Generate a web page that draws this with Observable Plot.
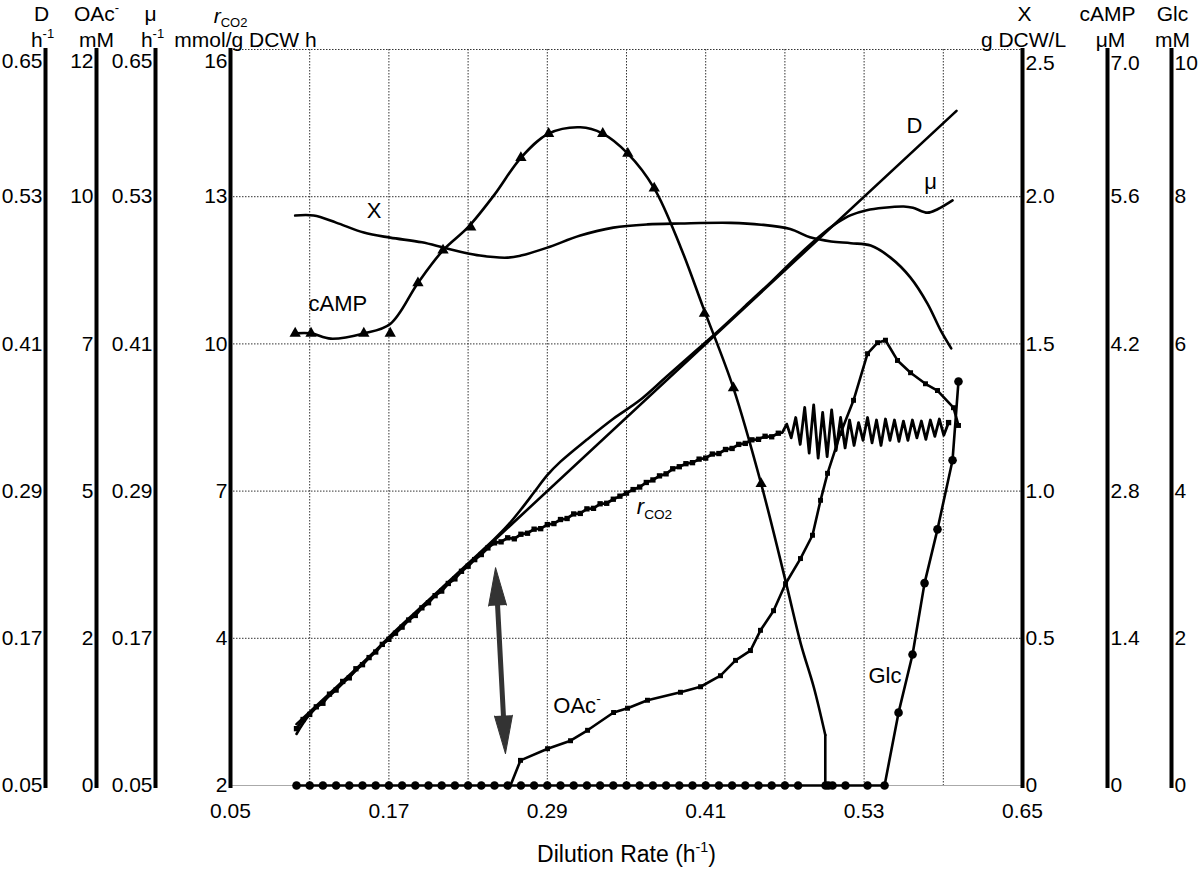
<!DOCTYPE html>
<html>
<head>
<meta charset="utf-8">
<script src="https://cdn.jsdelivr.net/npm/d3@7"></script>
<script src="https://cdn.jsdelivr.net/npm/@observablehq/plot@0.6"></script>
<style>
  html, body { margin: 0; padding: 0; background: #fff; }
  #chart { width: 1200px; height: 869px; }
</style>
</head>
<body>
<div id="chart"></div>
<script>
// ---------------- axes ----------------
const dilutionDomain = [0.05, 0.65];
const dilutionTicks = [0.05, 0.17, 0.29, 0.41, 0.53, 0.65];
const dilutionTickLabels = ["0.05", "0.17", "0.29", "0.41", "0.53", "0.65"];
const gridX = [0.11, 0.17, 0.23, 0.29, 0.35, 0.41, 0.47, 0.53, 0.59];
const gridLevels = [1, 2, 3, 4, 5];

// value domains of the seven y axes (bottom, top) and their tick labels (bottom -> top)
const dDomain = [0.05, 0.65];
const dTickLabels = ["0.05", "0.17", "0.29", "0.41", "0.53", "0.65"];
const oacDomain = [0, 12];
const oacTickLabels = ["0", "2", "5", "7", "10", "12"];
const muDomain = [0.05, 0.65];
const muTickLabels = ["0.05", "0.17", "0.29", "0.41", "0.53", "0.65"];
const rco2Domain = [1.5, 16];
const rco2TickLabels = ["2", "4", "7", "10", "13", "16"];
const bioDomain = [0, 2.5];
const bioTickLabels = ["0", "0.5", "1.0", "1.5", "2.0", "2.5"];
const campDomain = [0, 7];
const campTickLabels = ["0", "1.4", "2.8", "4.2", "5.6", "7.0"];
const glcDomain = [0, 10];
const glcTickLabels = ["0", "2", "4", "6", "8", "10"];

const leftTitles = ["D", "OAc^{-}", "μ", "*r*_{CO2}"];
const leftUnits = ["h^{-1}", "mM", "h^{-1}", "mmol/g DCW h"];
const rightTitles = ["X", "cAMP", "Glc"];
const rightUnits = ["g DCW/L", "μM", "mM"];
const xTitle = "Dilution Rate (h^{-1})";

// ---------------- series ----------------
// D (set dilution rate)
const dX = [0.10, 0.60];
const dV = [0.10, 0.60];

// mu (growth rate)
const muX = [0.100, 0.110, 0.130, 0.150, 0.170, 0.200, 0.230, 0.250, 0.260, 0.270, 0.280, 0.290, 0.300, 0.320, 0.340, 0.360, 0.380, 0.400, 0.420, 0.440, 0.460, 0.480, 0.500, 0.510, 0.520, 0.532, 0.545, 0.560, 0.567, 0.578, 0.586, 0.597];
const muV = [0.092, 0.108, 0.128, 0.149, 0.171, 0.201, 0.231, 0.251, 0.262, 0.275, 0.289, 0.303, 0.314, 0.332, 0.349, 0.364, 0.383, 0.402, 0.421, 0.441, 0.461, 0.482, 0.501, 0.509, 0.515, 0.519, 0.521, 0.522, 0.521, 0.517, 0.520, 0.527];

// X (biomass, g DCW/L)
const bioX = [0.099, 0.113, 0.130, 0.151, 0.171, 0.195, 0.214, 0.239, 0.260, 0.270, 0.290, 0.315, 0.340, 0.366, 0.391, 0.429, 0.452, 0.474, 0.489, 0.505, 0.520, 0.535, 0.550, 0.565, 0.578, 0.588, 0.596];
const bioV = [1.936, 1.936, 1.912, 1.878, 1.861, 1.845, 1.824, 1.800, 1.793, 1.800, 1.827, 1.868, 1.895, 1.906, 1.909, 1.911, 1.905, 1.890, 1.862, 1.848, 1.842, 1.834, 1.793, 1.726, 1.637, 1.546, 1.485];

// cAMP (uM) smooth curve and measured points
const campX = [0.099, 0.111, 0.126, 0.151, 0.171, 0.192, 0.211, 0.230, 0.250, 0.270, 0.291, 0.315, 0.332, 0.351, 0.371, 0.391, 0.408, 0.431, 0.452, 0.471, 0.482, 0.492, 0.5006, 0.5006];
const campV = [4.30, 4.30, 4.25, 4.30, 4.39, 4.78, 5.09, 5.31, 5.62, 5.97, 6.20, 6.26, 6.20, 6.01, 5.68, 5.12, 4.55, 3.78, 2.87, 1.92, 1.35, 0.93, 0.48, 0];
const campPtX = [0.099, 0.111, 0.151, 0.171, 0.192, 0.211, 0.232, 0.270, 0.291, 0.332, 0.351, 0.371, 0.409, 0.431, 0.452];
const campPtV = [4.30, 4.30, 4.30, 4.30, 4.78, 5.09, 5.31, 5.97, 6.20, 6.20, 6.01, 5.68, 4.49, 3.78, 2.87];

// rCO2 (mmol/g DCW h)
const rco2X = [0.100, 0.105, 0.110, 0.115, 0.120, 0.125, 0.130, 0.135, 0.140, 0.145, 0.150, 0.155, 0.160, 0.165, 0.170, 0.175, 0.180, 0.185, 0.190, 0.195, 0.200, 0.205, 0.210, 0.215, 0.220, 0.225, 0.230, 0.235, 0.240, 0.245, 0.250, 0.255, 0.260, 0.265, 0.270, 0.275, 0.280, 0.285, 0.290, 0.295, 0.300, 0.305, 0.310, 0.315, 0.320, 0.325, 0.330, 0.335, 0.340, 0.345, 0.350, 0.355, 0.360, 0.365, 0.370, 0.375, 0.380, 0.385, 0.390, 0.395, 0.400, 0.405, 0.410, 0.415, 0.420, 0.425, 0.430, 0.435, 0.440, 0.445, 0.450, 0.455, 0.460, 0.465,
  0.4680, 0.4714, 0.4748, 0.4782, 0.4816, 0.4850, 0.4884, 0.4918, 0.4952, 0.4986, 0.5020, 0.5054, 0.5088, 0.5122, 0.5156, 0.5190, 0.5224, 0.5258, 0.5292, 0.5326, 0.5360, 0.5394, 0.5428, 0.5462, 0.5496, 0.5530, 0.5564, 0.5598, 0.5632, 0.5666, 0.5700, 0.5734, 0.5768, 0.5802, 0.5836, 0.5870, 0.5904, 0.5940];
const rco2V = [2.62, 2.80, 2.90, 3.05, 3.12, 3.30, 3.38, 3.55, 3.62, 3.80, 3.88, 4.02, 4.13, 4.28, 4.38, 4.50, 4.62, 4.76, 4.85, 5.00, 5.10, 5.24, 5.33, 5.48, 5.57, 5.72, 5.82, 5.95, 6.05, 6.18, 6.28, 6.30, 6.38, 6.36, 6.45, 6.47, 6.55, 6.56, 6.64, 6.66, 6.74, 6.76, 6.85, 6.86, 6.95, 6.96, 7.05, 7.06, 7.14, 7.20, 7.26, 7.33, 7.38, 7.47, 7.52, 7.60, 7.64, 7.74, 7.78, 7.84, 7.86, 7.93, 7.95, 8.03, 8.04, 8.12, 8.14, 8.22, 8.24, 8.31, 8.32, 8.38, 8.37, 8.44,
  8.45, 8.62, 8.35, 8.75, 8.22, 8.95, 8.05, 9.00, 7.95, 8.85, 7.98, 8.90, 8.10, 8.75, 8.15, 8.70, 8.20, 8.65, 8.30, 8.75, 8.25, 8.70, 8.20, 8.72, 8.30, 8.70, 8.28, 8.68, 8.30, 8.70, 8.35, 8.68, 8.32, 8.70, 8.38, 8.72, 8.40, 8.65];

// acetate (mM)
const oacX = [0.2621, 0.2697, 0.2902, 0.3076, 0.3205, 0.3402, 0.3508, 0.3659, 0.3909, 0.4061, 0.4212, 0.4326, 0.4439, 0.4515, 0.4614, 0.4705, 0.4818, 0.4909, 0.4970, 0.5023, 0.5121, 0.5220, 0.5326, 0.5402, 0.5462, 0.5553, 0.5652, 0.5765, 0.5856, 0.5977, 0.6015];
const oacV = [0, 0.41, 0.60, 0.73, 0.90, 1.19, 1.26, 1.39, 1.52, 1.61, 1.79, 2.04, 2.20, 2.53, 2.85, 3.29, 3.70, 4.08, 4.65, 5.09, 5.74, 6.28, 7.04, 7.22, 7.26, 6.93, 6.73, 6.55, 6.44, 6.16, 5.87];

// glucose (mM)
const glcX = [0.10, 0.11, 0.12, 0.13, 0.14, 0.15, 0.16, 0.17, 0.18, 0.19, 0.20, 0.21, 0.22, 0.23, 0.24, 0.25, 0.26, 0.27, 0.28, 0.29, 0.30, 0.31, 0.32, 0.33, 0.34, 0.35, 0.36, 0.37, 0.38, 0.39, 0.40, 0.41, 0.42, 0.43, 0.44, 0.45, 0.46, 0.47, 0.48, 0.5008, 0.5030, 0.5061, 0.5159, 0.5326, 0.5455, 0.5561, 0.5667, 0.5758, 0.5856, 0.5970, 0.6015];
const glcV = [0, 0, 0, 0, 0, 0, 0, 0, 0, 0, 0, 0, 0, 0, 0, 0, 0, 0, 0, 0, 0, 0, 0, 0, 0, 0, 0, 0, 0, 0, 0, 0, 0, 0, 0, 0, 0, 0, 0, 0, 0, 0, 0, 0, 0, 0.99, 1.78, 2.75, 3.48, 4.42, 5.49];

// in-plot labels (x = dilution rate, y in grid units 0..5)
const curveLabelText = ["D", "μ", "X", "cAMP", "*r*_{CO2}", "OAc^{-}", "Glc"];
const curveLabelX = [0.5682, 0.5803, 0.1587, 0.1314, 0.3712, 0.3125, 0.5458];
const curveLabelY = [4.482, 4.101, 3.903, 3.271, 1.889, 0.543, 0.747];

// double arrow annotation (top tip, bottom tip)
const arrowX = [0.2508, 0.2583];
const arrowY = [1.48, 0.217];

// ---------------- layout ----------------
const layout = {
  leftAxisDx: [-185, -134, -75, 0],
  rightAxisDx: [0, 85, 149],
  leftTitleDx: [-189, -134, -80, 0],
  leftTitleDy: [-29, -29, -29, -27],
  leftUnitDx: [-188, -134, -78, 15],
  rightTitleDx: [2, 85, 150],
  rightUnitDx: [1, 88, 150],
};

// ---------------- helpers ----------------
const toGrid = (v, dom) => (v - dom[0]) / (dom[1] - dom[0]) * 5;
const rows = (xs, vs, dom) => xs.map((x, i) => ({x, y: toGrid(vs[i], dom)}));

const dRows = rows(dX, dV, dDomain);
const muRows = rows(muX, muV, muDomain);
const bioRows = rows(bioX, bioV, bioDomain);
const campRows = rows(campX, campV, campDomain);
const campPtRows = rows(campPtX, campPtV, campDomain);
const rco2Rows = rows(rco2X, rco2V, rco2Domain);
const oacRows = rows(oacX, oacV, oacDomain);
const glcRows = rows(glcX, glcV, glcDomain);

const leftTicks = [dTickLabels, oacTickLabels, muTickLabels, rco2TickLabels];
const rightTicks = [bioTickLabels, campTickLabels, glcTickLabels];
const tickTable = labels => labels.map((label, i) => ({label, y: i}));

const LW = 2.6;
const tickFs = 21;

const marks = [];
// grid
marks.push(Plot.ruleX(gridX, {stroke: "#333", strokeWidth: 1, strokeDasharray: "1.5,1.5"}));
marks.push(Plot.ruleY(gridLevels, {stroke: "#333", strokeWidth: 1, strokeDasharray: "1.5,1.5"}));
marks.push(Plot.ruleY([0], {stroke: "#aaa", strokeWidth: 1}));

// axis lines + tick labels
layout.leftAxisDx.forEach((dx, k) => {
  marks.push(Plot.ruleX([dilutionDomain[0]], {dx, stroke: "black", strokeWidth: 4, insetTop: -1, insetBottom: -3}));
  const t = tickTable(leftTicks[k]);
  marks.push(Plot.text(t.filter(d => d.y < 5), {y: "y", text: "label", frameAnchor: "left", dx: dx - 3, textAnchor: "end", lineAnchor: "middle", fontSize: tickFs}));
  marks.push(Plot.text(t.filter(d => d.y === 5), {y: "y", text: "label", frameAnchor: "left", dx: dx - 3, dy: 12, textAnchor: "end", lineAnchor: "middle", fontSize: tickFs}));
  marks.push(Plot.text([leftTitles[k]], {frameAnchor: "top-left", dx: layout.leftTitleDx[k], dy: layout.leftTitleDy[k], textAnchor: "middle", lineAnchor: "bottom", fontSize: 21}));
  marks.push(Plot.text([leftUnits[k]], {frameAnchor: "top-left", dx: layout.leftUnitDx[k], dy: -3, textAnchor: "middle", lineAnchor: "bottom", fontSize: 21}));
});
layout.rightAxisDx.forEach((dx, k) => {
  marks.push(Plot.ruleX([dilutionDomain[1]], {dx, stroke: "black", strokeWidth: 4, insetTop: -1, insetBottom: -3}));
  const t = tickTable(rightTicks[k]);
  marks.push(Plot.text(t.filter(d => d.y < 5), {y: "y", text: "label", frameAnchor: "right", dx: dx + 3, textAnchor: "start", lineAnchor: "middle", fontSize: tickFs}));
  marks.push(Plot.text(t.filter(d => d.y === 5), {y: "y", text: "label", frameAnchor: "right", dx: dx + 3, dy: 14, textAnchor: "start", lineAnchor: "middle", fontSize: tickFs}));
  marks.push(Plot.text([rightTitles[k]], {frameAnchor: "top-right", dx: layout.rightTitleDx[k], dy: -29, textAnchor: "middle", lineAnchor: "bottom", fontSize: 21}));
  marks.push(Plot.text([rightUnits[k]], {frameAnchor: "top-right", dx: layout.rightUnitDx[k], dy: -3, textAnchor: "middle", lineAnchor: "bottom", fontSize: 21}));
});

// x axis labels and title
marks.push(Plot.text(dilutionTicks, {x: d => d, text: (d, i) => dilutionTickLabels[i], frameAnchor: "bottom", dy: 26, lineAnchor: "middle", fontSize: tickFs}));
marks.push(Plot.text([xTitle], {frameAnchor: "bottom", dy: 76, lineAnchor: "bottom", fontSize: 23}));

// series
marks.push(Plot.line(dRows, {x: "x", y: "y", stroke: "black", strokeWidth: LW}));
marks.push(Plot.line(muRows, {x: "x", y: "y", stroke: "black", strokeWidth: LW, curve: "catmull-rom"}));
marks.push(Plot.line(bioRows, {x: "x", y: "y", stroke: "black", strokeWidth: LW, curve: "catmull-rom"}));
marks.push(Plot.line(campRows.slice(0, -1), {x: "x", y: "y", stroke: "black", strokeWidth: LW, curve: "catmull-rom"}));
marks.push(Plot.line(campRows.slice(-2), {x: "x", y: "y", stroke: "black", strokeWidth: LW}));
marks.push(Plot.dot(campPtRows, {x: "x", y: "y", symbol: "triangle", r: 4.2, fill: "black", stroke: "none"}));
marks.push(Plot.line(rco2Rows, {x: "x", y: "y", stroke: "black", strokeWidth: 2.8}));
marks.push(Plot.dot(rco2Rows.filter(d => d.x < 0.467 || d.x > 0.593), {x: "x", y: "y", symbol: "square", r: 3, fill: "black", stroke: "none"}));
marks.push(Plot.line(oacRows, {x: "x", y: "y", stroke: "black", strokeWidth: LW}));
marks.push(Plot.dot(oacRows.slice(1), {x: "x", y: "y", symbol: "square", r: 2.8, fill: "black", stroke: "none"}));
marks.push(Plot.line(glcRows, {x: "x", y: "y", stroke: "black", strokeWidth: LW}));
marks.push(Plot.dot(glcRows, {x: "x", y: "y", symbol: "circle", r: 4.3, fill: "black", stroke: "none"}));

// curve labels
marks.push(Plot.text(curveLabelText, {x: (d, i) => curveLabelX[i], y: (d, i) => curveLabelY[i], text: d => d, textAnchor: "middle", lineAnchor: "middle", fontSize: 22}));

// double arrow
const arrowRow = [{x1: arrowX[0], y1: arrowY[0], x2: arrowX[1], y2: arrowY[1]}];
marks.push(Plot.arrow(arrowRow, {x1: "x1", y1: "y1", x2: "x2", y2: "y2", stroke: "#333", strokeWidth: 5, headLength: 0, insetStart: 25, insetEnd: 25}));
marks.push(Plot.vector([{x: arrowX[0], y: arrowY[0]}], {x: "x", y: "y", anchor: "end", shape: "spike", length: 38, r: 9, rotate: -3, fill: "#333", fillOpacity: 1, stroke: "#333", strokeWidth: 1}));
marks.push(Plot.vector([{x: arrowX[1], y: arrowY[1]}], {x: "x", y: "y", anchor: "end", shape: "spike", length: 38, r: 9, rotate: 177, fill: "#333", fillOpacity: 1, stroke: "#333", strokeWidth: 1}));

const chart = Plot.plot({
  width: 1200,
  height: 869,
  marginLeft: 230,
  marginRight: 178,
  marginTop: 49,
  marginBottom: 84,
  x: {domain: dilutionDomain, axis: null},
  y: {domain: [0, 5], axis: null},
  style: {fontFamily: "'Liberation Sans', Arial, Helvetica, sans-serif", fontSize: "21px", background: "white", color: "black", overflow: "visible"},
  marks
});
document.getElementById("chart").appendChild(chart);

// rich text: ^{sup}, _{sub}, *italic*
function richify(root) {
  const NS = "http://www.w3.org/2000/svg";
  root.querySelectorAll("text").forEach(t => {
    const s = t.textContent;
    if (!/[\^_]\{|\*/.test(s)) return;
    const fs = parseFloat(getComputedStyle(t).fontSize) || 21;
    const parts = s.match(/\^\{[^}]*\}|_\{[^}]*\}|\*[^*]*\*|[^\^_*]+/g) || [];
    while (t.firstChild) t.removeChild(t.firstChild);
    let shift = 0;
    for (const p of parts) {
      const ts = document.createElementNS(NS, "tspan");
      let target = 0, txt = p;
      if (p.startsWith("^{")) { target = -0.42 * fs; txt = p.slice(2, -1); ts.setAttribute("font-size", (0.62 * fs) + "px"); }
      else if (p.startsWith("_{")) { target = 0.2 * fs; txt = p.slice(2, -1); ts.setAttribute("font-size", (0.62 * fs) + "px"); }
      else if (p.startsWith("*")) { txt = p.slice(1, -1); ts.setAttribute("font-style", "italic"); }
      if (target !== shift) ts.setAttribute("dy", target - shift);
      shift = target;
      ts.textContent = txt;
      t.appendChild(ts);
    }
  });
}
richify(chart);
</script>
</body>
</html>
